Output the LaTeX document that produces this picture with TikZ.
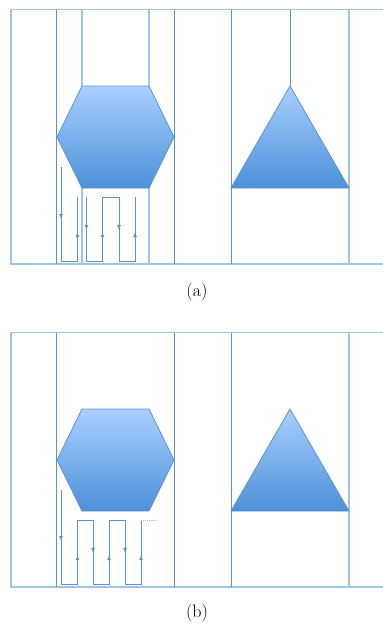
\documentclass[tikz,border=0pt]{standalone}
\usepackage{tikz}
\usetikzlibrary{arrows.meta}
\definecolor{frameblue}{RGB}{91,146,210}
\definecolor{paleblue}{RGB}{160,196,232}
\definecolor{shadetop}{RGB}{170,207,255}
\definecolor{shadebot}{RGB}{76,145,216}

\begin{document}
\begin{tikzpicture}[x=1pt, y=-1pt,
    wall/.style={frameblue, line width=1pt},
    thinwall/.style={paleblue, line width=1.4pt},
    solid shape/.style={draw=frameblue, line width=0.8pt, top color=shadetop, bottom color=shadebot},
    flow/.style={frameblue, line width=0.9pt},
    tip/.style={frameblue, line width=0.9pt, -{Latex[length=5pt,width=4pt]}},
    caption/.style={font=\fontsize{18}{22}\selectfont}]
\useasboundingbox (0,0) rectangle (383,625);

% Panel (a)
\begin{scope}[shift={(0,0)}]
    \draw[thinwall] (383,9.5) -- (11,9.5) -- (11,264) -- (383,264);
    \foreach \x in {56, 174, 231}
        \draw[wall] (\x,9.5) -- (\x,264);
    \draw[thinwall] (349,9.5) -- (349,264);
    \foreach \x in {82, 149} {
        \draw[thinwall] (\x,9.5) -- (\x,86);
        \draw[thinwall] (\x,188) -- (\x,264);
    }
    \draw[wall] (290,9.5) -- (290,86);
    \draw[solid shape] (82,86) -- (149,86) -- (174,137) -- (149,188) -- (82,188) -- (57,137) -- cycle;
    \draw[solid shape] (290,86) -- (349,188) -- (231,188) -- cycle;
    \draw[flow] (61,167) -- (61,261) -- (77.5,261) -- (77.5,197);
    \draw[flow] (86.5,197) -- (86.5,261) -- (102.5,261) -- (102.5,197) -- (119,197) -- (119,261) -- (135,261) -- (135,197);
    \draw[tip] (61,208) -- (61,219);
    \foreach \x in {86.5, 119}
        \draw[tip] (\x,219) -- (\x,230);
    \foreach \x in {77.5, 102.5, 135}
        \draw[tip] (\x,243) -- (\x,232);
    \node[caption] (capa) at (197,292) {(a)};
\end{scope}

% Panel (b)
\begin{scope}[shift={(0,323)}]
    \draw[thinwall] (383,9.5) -- (11,9.5) -- (11,264) -- (383,264);
    \foreach \x in {56, 174, 231}
        \draw[wall] (\x,9.5) -- (\x,264);
    \draw[thinwall] (349,9.5) -- (349,264);
    \draw[solid shape] (82,86) -- (149,86) -- (174,137) -- (149,188) -- (82,188) -- (57,137) -- cycle;
    \draw[solid shape] (290,86) -- (349,188) -- (231,188) -- cycle;
    \draw[flow] (61,167) -- (61,261) -- (77.5,261) -- (77.5,197) -- (93,197) -- (93,261) -- (109,261) -- (109,197) -- (125,197) -- (125,261) -- (141,261) -- (141,197);
    \draw[paleblue, line width=0.9pt, densely dotted] (141,197) -- (158,197);
    \draw[tip] (61,207) -- (61,218);
    \foreach \x in {93, 125}
        \draw[tip] (\x,219) -- (\x,230);
    \foreach \x in {77.5, 109, 141}
        \draw[tip] (\x,243) -- (\x,232);
    \node[caption] (capb) at (197,290) {(b)};
\end{scope}

\end{tikzpicture}
\end{document}
